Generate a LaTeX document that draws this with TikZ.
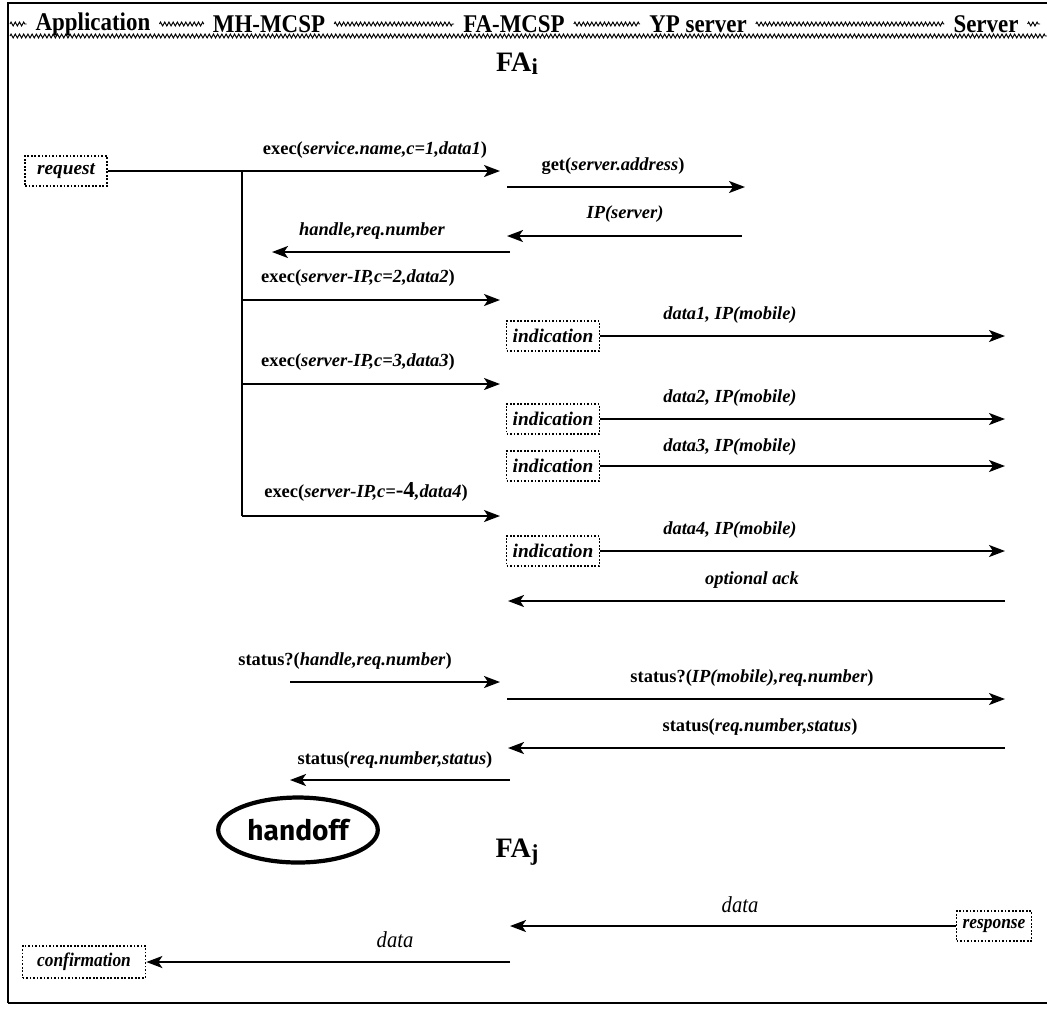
\documentclass[tikz,border=0pt]{standalone}
\usepackage{fontspec}
\setmainfont{Liberation Serif}
\newfontfamily\headfont[FakeStretch=0.9]{Liberation Serif}
\newfontfamily\roundfont{Fira Sans}
\usetikzlibrary{arrows.meta}
\usetikzlibrary{decorations.pathmorphing}
\usetikzlibrary{positioning}
\usetikzlibrary{shapes.geometric}
\tikzset{msg/.style = {line width=1.1pt, -{Stealth[length=3.2mm, width=2.4mm, inset=0.8mm]}},
         lbl/.style = {font=\fontsize{10.5}{12}\selectfont\bfseries, inner sep=1pt},
         actbox/.style = {draw, densely dotted, line width=1pt, minimum height=0.6cm,
                          font=\fontsize{11}{12}\selectfont\bfseries\itshape, inner sep=2pt},
         head/.style = {font=\headfont\fontsize{14.5}{16}\selectfont\bfseries, inner sep=5pt},
         hdsep/.style = {decorate, decoration={zigzag, segment length=2.4pt, amplitude=1.1pt},
                         line width=0.55pt},
         fatitle/.style = {font=\fontsize{16}{18}\selectfont\bfseries}}

\begin{document}
\begin{tikzpicture}[x=0.02cm, y=-0.02cm]
    \useasboundingbox (0,0) rectangle (1047,1012);
    \draw [line width=1.6pt] (8,1003) -- (8,3) -- (1047,3);
    \draw [line width=0.8pt] (8,1003) -- (1047,1003);

    % header row
    \node [head] (app) at (93,24) {Application};
    \node [head] (mh) at (269,24) {MH-MCSP};
    \node [head] (fa) at (514,24) {FA-MCSP};
    \node [head] (yp) at (698,24) {YP server};
    \node [head] (srv) at (986,24) {Server};
    \coordinate (hdl) at (10,24);
    \coordinate (hdr) at (1040,24);
    \draw [hdsep] (hdl) -- (app);
    \draw [hdsep] (app) -- (mh);
    \draw [hdsep] (mh) -- (fa);
    \draw [hdsep] (fa) -- (yp);
    \draw [hdsep] (yp) -- (srv);
    \draw [hdsep] (srv) -- (hdr);
    \coordinate (ull) at (10,36);
    \coordinate (ulr) at (1047,36);
    \draw [hdsep] (ull) -- (ulr);

    \node [fatitle] (fai) at (517,64) {FA\raisebox{-1.5pt}{\fontsize{13}{13}\selectfont i}};

    % requests from the application
    \node [actbox, minimum width=1.64cm] (req) at (66,171) {request};
    \coordinate (fork) at (242,171);
    \coordinate (ex1) at (500,171);
    \draw [msg] (req) -- (ex1);
    \node [lbl] (lex1) at (375,150) {exec(\textit{service.name,c=1,data1})};

    \coordinate (fork4) at (242,516);
    \draw [line width=1.1pt] (fork) -- (fork4);

    \coordinate (gets) at (507,187);
    \coordinate (gete) at (745,187);
    \draw [msg] (gets) -- (gete);
    \node [lbl] (lget) at (613,166) {get(\textit{server.address})};

    \coordinate (ips) at (742,236);
    \coordinate (ipe) at (507,236);
    \draw [msg] (ips) -- (ipe);
    \node [lbl] (lip) at (625,214) {\textit{IP(server)}};

    \coordinate (hds) at (510,252);
    \coordinate (hde) at (272,252);
    \draw [msg] (hds) -- (hde);
    \node [lbl] (lhd) at (372,231) {\textit{handle,req.number}};

    \coordinate (fork2) at (242,300);
    \coordinate (ex2) at (500,300);
    \draw [msg] (fork2) -- (ex2);
    \node [lbl] (lex2) at (358,278) {exec(\textit{server-IP,c=2,data2})};

    \coordinate (fork3) at (242,384);
    \coordinate (ex3) at (500,384);
    \draw [msg] (fork3) -- (ex3);
    \node [lbl] (lex3) at (358,362) {exec(\textit{server-IP,c=3,data3})};

    \coordinate (ex4) at (500,516);
    \draw [msg] (fork4) -- (ex4);
    \node [lbl] (lex4) at (366,492) {exec(\textit{server-IP,c=\textup{\fontsize{13}{13}\selectfont -4},data4})};

    % indications to the server
    \node [actbox, minimum width=1.86cm] (ind1) at (553,336) {indication};
    \node [actbox, minimum width=1.86cm] (ind2) at (553,419) {indication};
    \node [actbox, minimum width=1.86cm] (ind3) at (553,466) {indication};
    \node [actbox, minimum width=1.86cm] (ind4) at (553,551) {indication};
    \coordinate (sv1) at (1005,336);
    \coordinate (sv2) at (1005,419);
    \coordinate (sv3) at (1005,466);
    \coordinate (sv4) at (1005,551);
    \draw [msg] (ind1) -- (sv1);
    \draw [msg] (ind2) -- (sv2);
    \draw [msg] (ind3) -- (sv3);
    \draw [msg] (ind4) -- (sv4);
    \node [lbl] (ld1) at (730,315) {\textit{data1, IP(mobile)}};
    \node [lbl] (ld2) at (730,398) {\textit{data2, IP(mobile)}};
    \node [lbl] (ld3) at (730,447) {\textit{data3, IP(mobile)}};
    \node [lbl] (ld4) at (730,530) {\textit{data4, IP(mobile)}};

    \coordinate (acks) at (1005,601);
    \coordinate (acke) at (508,601);
    \draw [msg] (acks) -- (acke);
    \node [lbl] (lack) at (752,580) {\textit{optional ack}};

    % status query
    \coordinate (st1s) at (290,682);
    \coordinate (st1e) at (500,682);
    \draw [msg] (st1s) -- (st1e);
    \node [lbl] (lst1) at (345,661) {status?(\textit{handle,req.number})};

    \coordinate (st2s) at (507,699);
    \coordinate (st2e) at (1005,699);
    \draw [msg] (st2s) -- (st2e);
    \node [lbl] (lst2) at (752,678) {status?(\textit{IP(mobile),req.number})};

    \coordinate (st3s) at (1005,748);
    \coordinate (st3e) at (508,748);
    \draw [msg] (st3s) -- (st3e);
    \node [lbl] (lst3) at (760,727) {status(\textit{req.number,status})};

    \coordinate (st4s) at (510,780);
    \coordinate (st4e) at (290,780);
    \draw [msg] (st4s) -- (st4e);
    \node [lbl] (lst4) at (395,760) {status(\textit{req.number,status})};

    % handoff to the new agent
    \node [ellipse, draw, line width=2.4pt, minimum width=2.94cm, minimum height=1.3cm,
           font=\roundfont\bfseries\fontsize{16}{17}\selectfont] (hoff) at (298,830) {handoff};
    \node [fatitle] (faj) at (517,852) {FA\raisebox{-2pt}{\fontsize{13}{13}\selectfont j}};

    \node [actbox, minimum width=1.5cm, font=\headfont\fontsize{11}{12}\selectfont\bfseries\itshape] (resp) at (994,926) {response};
    \coordinate (rse) at (510,926);
    \draw [msg] (resp) -- (rse);
    \node [font=\headfont\fontsize{13}{14}\selectfont\itshape] (ldr) at (740,905) {data};

    \node [actbox, minimum width=2.46cm, minimum height=0.64cm, font=\headfont\fontsize{11}{12}\selectfont\bfseries\itshape] (conf) at (84,962) {confirmation};
    \coordinate (cfs) at (510,962);
    \draw [msg] (cfs) -- (conf);
    \node [font=\headfont\fontsize{13}{14}\selectfont\itshape] (ldc) at (395,940) {data};
\end{tikzpicture}
\end{document}
